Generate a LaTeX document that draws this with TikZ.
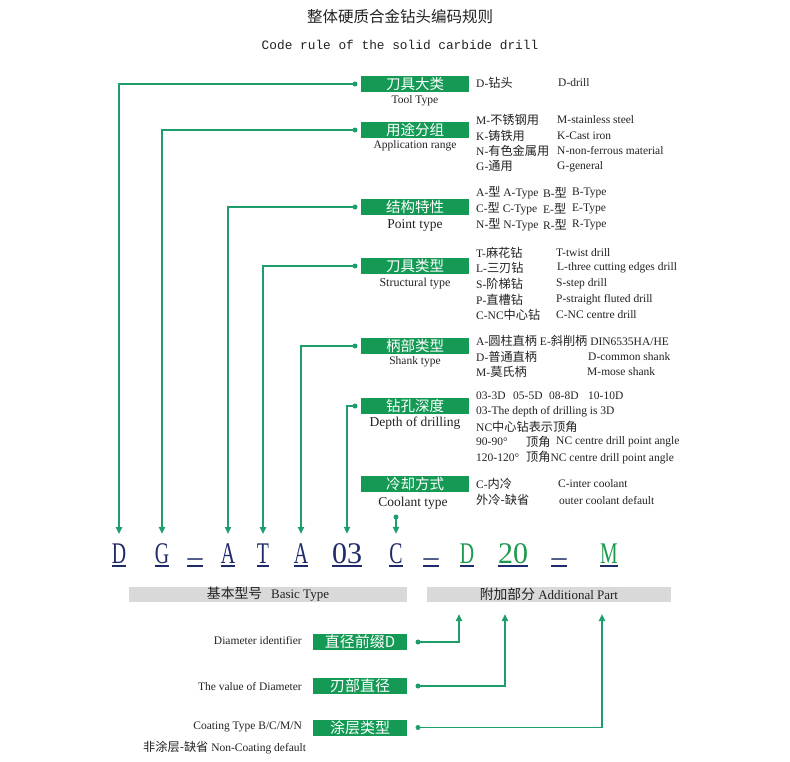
\documentclass[tikz,border=0pt]{standalone}
\usepackage{fontspec}
\usepackage{graphicx}
\setmainfont{Liberation Serif}
\newfontfamily\cjk[Scale=1.06]{Noto Sans CJK SC}
\newfontfamily\cjkt{Noto Sans CJK SC}
\newfontfamily\monof{Liberation Mono}
\usetikzlibrary{arrows.meta}
\definecolor{boxgreen}{HTML}{149A55}
\definecolor{linegreen}{HTML}{1E9E6A}
\definecolor{navy}{HTML}{1F2A6B}
\definecolor{codegreen}{HTML}{1E9A4E}
\definecolor{barfill}{HTML}{D9D9D9}
\definecolor{txt}{HTML}{222222}
\newcommand\zhs[1]{{\cjk #1}}
\newcommand\nar[1]{\scalebox{0.66}[1]{#1}}
\tikzset{
  tbox/.style={fill=boxgreen, text=white, font=\cjkt\fontsize{14.5}{14.5}\selectfont, minimum width=108pt, minimum height=16pt, inner sep=0pt},
  bbox/.style={fill=boxgreen, text=white, font=\cjkt\fontsize{15}{15}\selectfont, minimum width=94pt, minimum height=16pt, inner sep=0pt},
  lab/.style={text=txt, inner sep=0pt, font=\fontsize{11.5}{13}\selectfont},
  labbig/.style={text=txt, inner sep=0pt, font=\fontsize{13.5}{15}\selectfont},
  desc/.style={anchor=west, text=txt, inner sep=0pt, font=\fontsize{11.5}{13}\selectfont},
  dotn/.style={circle, fill=linegreen, inner sep=0pt, minimum size=5pt},
  conn/.style={draw=linegreen, line width=1.8pt, -{Triangle[length=7pt,width=6pt]}},
  code/.style={anchor=base, inner sep=0pt, text=navy, font=\fontsize{30}{30}\selectfont},
  gcode/.style={code, text=codegreen},
  uline/.style={draw=navy, line width=2pt},
  bar/.style={fill=barfill, text=txt, minimum height=15pt, inner sep=0pt, font=\fontsize{13}{14}\selectfont},
}
\begin{document}
\begin{tikzpicture}[x=1pt,y=-1pt]
\useasboundingbox[fill=white] (0,0) rectangle (790,761);
% titles
\node[font=\cjkt\fontsize{15.5}{16}\selectfont, text=txt] (t1) at (400,17) {整体硬质合金钻头编码规则};
\node[font=\monof\fontsize{12.8}{14}\selectfont, text=txt] (t2) at (400,45) {Code rule of the solid carbide drill};

% top green boxes
\node[tbox] (b1) at (415,84) {刀具大类};
\node[lab] (l1) at (415,101) {Tool Type};
\node[tbox] (b2) at (415,130) {用途分组};
\node[lab] (l2) at (415,146) {Application range};
\node[tbox] (b3) at (415,207) {结构特性};
\node[labbig] (l3) at (415,225) {Point type};
\node[tbox] (b4) at (415,266) {刀具类型};
\node[lab, font=\fontsize{12}{14}\selectfont] (l4) at (415,284) {Structural type};
\node[tbox] (b5) at (415,346) {柄部类型};
\node[lab] (l5) at (415,362) {Shank type};
\node[tbox] (b6) at (415,406) {钻孔深度};
\node[labbig] (l6) at (415,423) {Depth of drilling};
\node[tbox] (b7) at (415,484) {冷却方式};
\node[labbig] (l7) at (413,503) {Coolant type};

% dots
\node[dotn] (d1) at (355,84) {};
\node[dotn] (d2) at (355,130) {};
\node[dotn] (d3) at (355,207) {};
\node[dotn] (d4) at (355,266) {};
\node[dotn] (d5) at (355,346) {};
\node[dotn] (d6) at (355,406) {};
\node[dotn] (d7) at (396,517) {};

% descriptions
\node[desc] (r1a) at (476,83) {D-\zhs{钻头}};
\node[desc] (r1b) at (558,83) {D-drill};
\node[desc] (r2a) at (476,120) {M-\zhs{不锈钢用}};
\node[desc] (r2b) at (557,120) {M-stainless steel};
\node[desc] (r3a) at (476,135.5) {K-\zhs{铸铁用}};
\node[desc] (r3b) at (557,135.5) {K-Cast iron};
\node[desc] (r4a) at (476,151) {N-\zhs{有色金属用}};
\node[desc] (r4b) at (557,151) {N-non-ferrous material};
\node[desc] (r5a) at (476,166.5) {G-\zhs{通用}};
\node[desc] (r5b) at (557,166.5) {G-general};

\node[desc] (p1a) at (476,193) {A-\zhs{型} A-Type};
\node[desc] (p1b) at (543,193) {B-\zhs{型}};
\node[desc] (p1c) at (572,193) {B-Type};
\node[desc] (p2a) at (476,209) {C-\zhs{型} C-Type};
\node[desc] (p2b) at (543,209) {E-\zhs{型}};
\node[desc] (p2c) at (572,209) {E-Type};
\node[desc] (p3a) at (476,224.5) {N-\zhs{型} N-Type};
\node[desc] (p3b) at (543,224.5) {R-\zhs{型}};
\node[desc] (p3c) at (572,224.5) {R-Type};

\node[desc] (s1a) at (476,252.5) {T-\zhs{麻花钻}};
\node[desc] (s1b) at (556,252.5) {T-twist drill};
\node[desc] (s2a) at (476,268) {L-\zhs{三刃钻}};
\node[desc] (s2b) at (557,268) {L-three cutting edges drill};
\node[desc] (s3a) at (476,284) {S-\zhs{阶梯钻}};
\node[desc] (s3b) at (556,284) {S-step drill};
\node[desc] (s4a) at (476,299.5) {P-\zhs{直槽钻}};
\node[desc] (s4b) at (556,299.5) {P-straight fluted drill};
\node[desc] (s5a) at (476,315) {C-NC\zhs{中心钻}};
\node[desc] (s5b) at (556,315) {C-NC centre drill};

\node[desc] (k1) at (476,341) {A-\zhs{圆柱直柄} E-\zhs{斜削柄} DIN6535HA/HE};
\node[desc] (k2a) at (476,356.5) {D-\zhs{普通直柄}};
\node[desc] (k2b) at (588,356.5) {D-common shank};
\node[desc] (k3a) at (476,371.5) {M-\zhs{莫氏柄}};
\node[desc] (k3b) at (587,371.5) {M-mose shank};

\node[desc] (h1a) at (476,396) {03-3D};
\node[desc] (h1b) at (513,396) {05-5D};
\node[desc] (h1c) at (549,396) {08-8D};
\node[desc] (h1d) at (588,396) {10-10D};
\node[desc] (h2) at (476,411.5) {03-The depth of drilling is 3D};
\node[desc] (h3) at (476,427) {NC\zhs{中心钻表示顶角}};
\node[desc] (h4a) at (476,442) {90-90°};
\node[desc] (h4b) at (526,442) {\zhs{顶角}};
\node[desc] (h4c) at (556,442) {NC centre drill point angle};
\node[desc] (h5a) at (476,457.5) {120-120°};
\node[desc] (h5b) at (526,457.5) {\zhs{顶角}NC centre drill point angle};

\node[desc] (o1a) at (476,484) {C-\zhs{内冷}};
\node[desc] (o1b) at (558,484) {C-inter coolant};
\node[desc] (o2a) at (476,500) {\zhs{外冷-缺省}};
\node[desc] (o2b) at (559,500) {outer coolant default};

% code row
\node[code] (c1) at (119,563) {\nar{D}};
\node[code] (c2) at (162,563) {\nar{G}};
\node[code] (c3) at (195,563) {\raisebox{-3pt}{–}};
\node[code] (c4) at (228,563) {\nar{A}};
\node[code] (c5) at (263,563) {\nar{T}};
\node[code] (c6) at (301,563) {\nar{A}};
\node[code] (c7) at (347,563) {03};
\node[code] (c8) at (396,563) {\nar{C}};
\node[code] (c9) at (431,563) {\raisebox{-3pt}{–}};
\node[gcode] (c10) at (467,563) {\nar{D}};
\node[gcode] (c11) at (513,563) {20};
\node[code] (c12) at (559,563) {\raisebox{-3pt}{–}};
\node[gcode] (c13) at (609,563) {\nar{M}};
\foreach \n in {c1,c2,c3,c4,c5,c6,c7,c8,c9,c10,c11,c12,c13}
  \draw[uline] ([yshift=-3pt]\n.base west) -- ([yshift=-3pt]\n.base east);

% connectors top
\draw[conn] (d1.center) -| ([yshift=9pt]c1.north);
\draw[conn] (d2.center) -| ([yshift=9pt]c2.north);
\draw[conn] (d3.center) -| ([yshift=9pt]c4.north);
\draw[conn] (d4.center) -| ([yshift=9pt]c5.north);
\draw[conn] (d5.center) -| ([yshift=9pt]c6.north);
\draw[conn] (d6.center) -| ([yshift=9pt]c7.north);
\draw[conn] (d7.center) -- ([yshift=9pt]c8.north);

% bars
\node[bar, minimum width=278pt] (basic) at (268,594.5) {\zhs{基本型号}\hspace{9pt}Basic Type};
\node[bar, minimum width=244pt] (addl) at (549,594.5) {\zhs{附加部分} Additional Part};

% bottom boxes
\node[bbox] (e1) at (360,642) {直径前缀D};
\node[bbox] (e2) at (360,686) {刃部直径};
\node[bbox] (e3) at (360,727.5) {涂层类型};
\node[lab, anchor=east] (f1) at (302,640) {Diameter identifier};
\node[lab, anchor=east] (f2) at (302,686) {The value of Diameter};
\node[lab, anchor=east] (f3) at (302,727) {Coating Type B/C/M/N};
\node[lab, anchor=west] (f4) at (143,748) {\zhs{非涂层-缺省} Non-Coating default};

\node[dotn] (g1) at (418,642) {};
\node[dotn] (g2) at (418,686) {};
\node[dotn] (g3) at (418,727.5) {};
\coordinate (a1) at (459,614);
\coordinate (a2) at (505,614);
\coordinate (a3) at (602,614);
\draw[conn] (g1.center) -| (a1);
\draw[conn] (g2.center) -| (a2);
\draw[conn] (g3.center) -| (a3);
\end{tikzpicture}
\end{document}
